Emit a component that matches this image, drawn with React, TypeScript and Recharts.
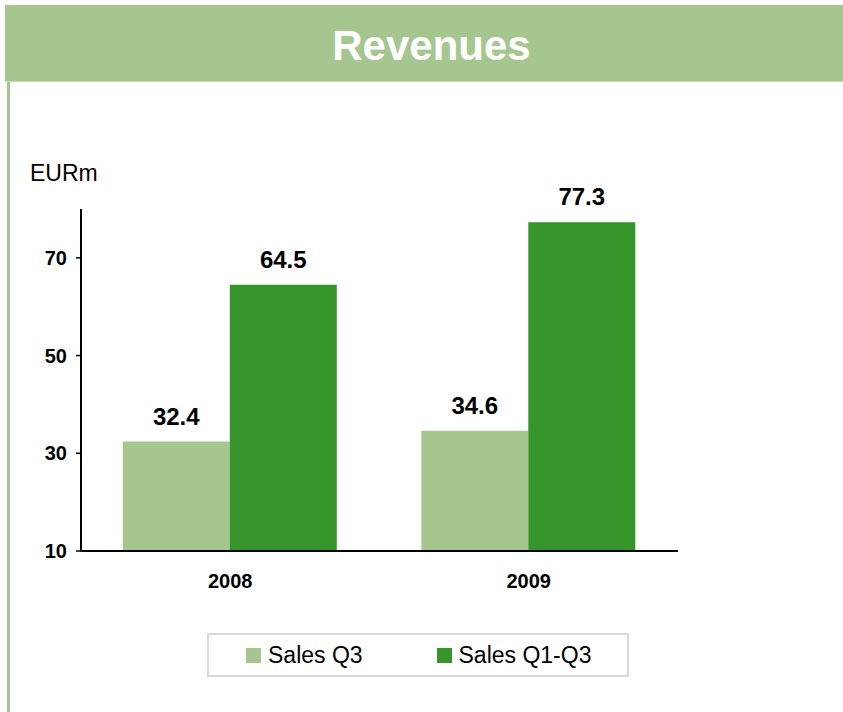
import React from 'react';
import { BarChart, Bar, XAxis, YAxis, LabelList } from 'recharts';

// Values
const years = ['2008', '2009'];
const salesQ3 = [32.4, 34.6];
const salesQ1Q3 = [64.5, 77.3];
const yTicks = [10, 30, 50, 70];

const series = [
  { key: 'salesQ3', name: 'Sales Q3', color: '#a6c68f' },
  { key: 'salesQ1Q3', name: 'Sales Q1-Q3', color: '#36952a' },
];

const data = years.map((year, i) => ({
  year,
  salesQ3: salesQ3[i],
  salesQ1Q3: salesQ1Q3[i],
}));

const FONT = '"Liberation Sans", Arial, Helvetica, sans-serif';

const App: React.FC = () => {
  return (
    <div
      style={{
        position: 'absolute',
        left: 0,
        top: 0,
        width: 843,
        height: 712,
        background: '#fff',
        fontFamily: FONT,
        overflow: 'hidden',
      }}
    >
      {/* Title bar */}
      <div
        style={{
          position: 'absolute',
          left: 5,
          top: 5,
          width: 838,
          height: 77,
          background: '#a6c68f',
          borderBottom: '1px solid #c7dbb8',
          boxSizing: 'border-box',
        }}
      />
      <div
        style={{
          position: 'absolute',
          left: 5,
          top: 7,
          width: 853,
          height: 77,
          lineHeight: '77px',
          textAlign: 'center',
          color: '#fff',
          fontWeight: 'bold',
          fontSize: 42,
        }}
      >
        Revenues
      </div>

      {/* Left border */}
      <div
        style={{
          position: 'absolute',
          left: 7,
          top: 82,
          width: 3,
          height: 630,
          background: '#a6c68f',
        }}
      />

      {/* Unit label */}
      <div
        style={{
          position: 'absolute',
          left: 30,
          top: 162,
          fontSize: 23,
          lineHeight: '23px',
          color: '#000',
        }}
      >
        EURm
      </div>

      <div style={{ position: 'absolute', left: 0, top: 0 }}>
        <BarChart
          width={843}
          height={712}
          data={data}
          margin={{ top: 209, right: 165, bottom: 121, left: 21 }}
          barCategoryGap="14%"
          barGap={0}
        >
          <XAxis
            dataKey="year"
            axisLine={{ stroke: '#000', strokeWidth: 2 }}
            tickLine={false}
            tickSize={0}
            tickMargin={23}
            height={40}
            tick={{ fill: '#000', fontSize: 20, fontWeight: 'bold', fontFamily: FONT }}
          />
          <YAxis
            domain={[10, 80]}
            ticks={yTicks}
            width={60}
            allowDataOverflow
            axisLine={{ stroke: '#000', strokeWidth: 2 }}
            tickLine={{ stroke: '#000', strokeWidth: 1.5 }}
            tickSize={5}
            tickMargin={9}
            tick={{ fill: '#000', fontSize: 20, fontWeight: 'bold', fontFamily: FONT }}
          />
          {series.map((s) => (
            <Bar key={s.key} dataKey={s.key} name={s.name} fill={s.color} isAnimationActive={false}>
              <LabelList
                dataKey={s.key}
                position="top"
                offset={17}
                fill="#000"
                fontSize={24}
                fontWeight="bold"
                fontFamily={FONT}
              />
            </Bar>
          ))}
        </BarChart>
      </div>

      {/* Legend */}
      <div
        style={{
          position: 'absolute',
          left: 207,
          top: 633,
          width: 422,
          height: 44,
          border: '2px solid #d9d9d9',
          boxSizing: 'border-box',
          display: 'flex',
          alignItems: 'center',
          paddingLeft: 37,
        }}
      >
        {series.map((s) => (
          <div key={s.key} style={{ display: 'flex', alignItems: 'center', width: 191 }}>
            <span style={{ width: 15, height: 15, background: s.color, marginRight: 7, display: 'inline-block' }} />
            <span style={{ fontSize: 23, color: '#000', lineHeight: '23px' }}>{s.name}</span>
          </div>
        ))}
      </div>
    </div>
  );
};

export default App;
